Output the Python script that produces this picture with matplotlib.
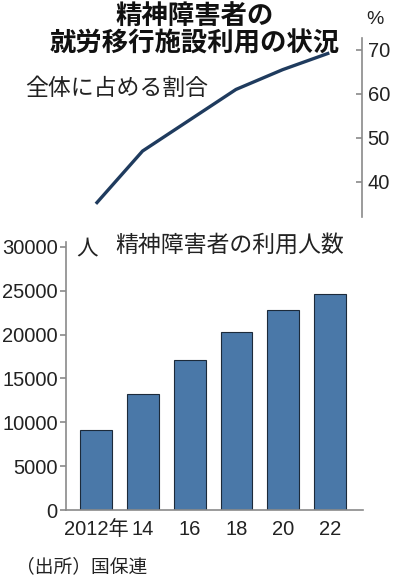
import matplotlib
matplotlib.use("Agg")
import matplotlib.pyplot as plt

plt.rcParams['font.family'] = ['Noto Sans CJK JP', 'DejaVu Sans']

years = [2012, 2014, 2016, 2018, 2020, 2022]
year_labels = ["2012年", "14", "16", "18", "20", "22"]
share_pct = [35, 47, 54, 61, 65.5, 69.3]
users = [9100, 13200, 17100, 20300, 22800, 24650]
pct_ticks = [40, 50, 60, 70]
user_ticks = [0, 5000, 10000, 15000, 20000, 25000, 30000]

W, H = 397, 584
NUM_FONT = ['Liberation Sans', 'Noto Sans CJK JP']
GRAY = "#8a8a8a"
INK = "#222222"


def box(x0, y0, x1, y1):
    # pixel box (top-left origin) -> figure fraction rect
    return [x0 / W, 1 - y1 / H, (x1 - x0) / W, (y1 - y0) / H]


fig = plt.figure(figsize=(W / 100, H / 100), dpi=100)
xs = list(range(len(years)))
xlim = (-0.64, 5.7)

# top: line chart of share
ax1 = fig.add_axes(box(66, 38, 362, 217))
ax1.plot(xs, share_pct, color="#1f3b5e", lw=2.4, solid_capstyle="butt")
ax1.set_xlim(*xlim)
ax1.set_ylim(32.0, 72.7)
for s in ["left", "top", "bottom"]:
    ax1.spines[s].set_visible(False)
ax1.spines["right"].set_color(GRAY)
ax1.spines["right"].set_linewidth(1.2)
ax1.yaxis.tick_right()
ax1.set_yticks(pct_ticks)
ax1.set_yticklabels([str(t) for t in pct_ticks], family=NUM_FONT, fontsize=14.5, color=INK)
ax1.tick_params(axis="y", direction="in", length=4, width=1.2, color=GRAY, pad=4)
ax1.set_xticks([])
ax1.patch.set_alpha(0)

# bottom: bar chart of users
ax2 = fig.add_axes(box(66, 242, 363, 510))
ax2.bar(xs, users, width=0.68, color="#4a78a8", edgecolor="#1c2a3a", linewidth=0.8)
ax2.set_xlim(*xlim)
ax2.set_ylim(0, 30560)
for s in ["top", "right"]:
    ax2.spines[s].set_visible(False)
for s in ["left", "bottom"]:
    ax2.spines[s].set_color(GRAY)
    ax2.spines[s].set_linewidth(1.2)
ax2.set_yticks(user_ticks)
ax2.set_yticklabels([str(t) for t in user_ticks], family=NUM_FONT, fontsize=14.5, color=INK)
ax2.tick_params(axis="y", direction="out", length=4, width=1.2, color=GRAY, pad=2)
ax2.set_xticks(xs)
ax2.set_xticklabels(year_labels, family=NUM_FONT, fontsize=14.5, color=INK)
ax2.tick_params(axis="x", length=0, pad=7)


def ftext(x, y, s, **kw):
    fig.text(x / W, 1 - y / H, s, **kw)


ftext(195, 30, "精神障害者の\n就労移行施設利用の状況", ha="center", va="center",
      fontsize=19, fontweight="bold", linespacing=1.05, color="#111111")
ftext(375, 20, "%", ha="center", va="center", fontsize=14, color=INK,
      family=['Liberation Sans'])
ftext(25, 88, "全体に占める割合", ha="left", va="center", fontsize=16.5, color=INK)
ftext(115, 245, "精神障害者の利用人数", ha="left", va="center", fontsize=16.5, color=INK)
ftext(76, 248, "人", ha="left", va="center", fontsize=15.5, color=INK)
ftext(16, 567, "（出所）国保連", ha="left", va="center", fontsize=13.5, color=INK)

fig.savefig("out.png", dpi=100)
